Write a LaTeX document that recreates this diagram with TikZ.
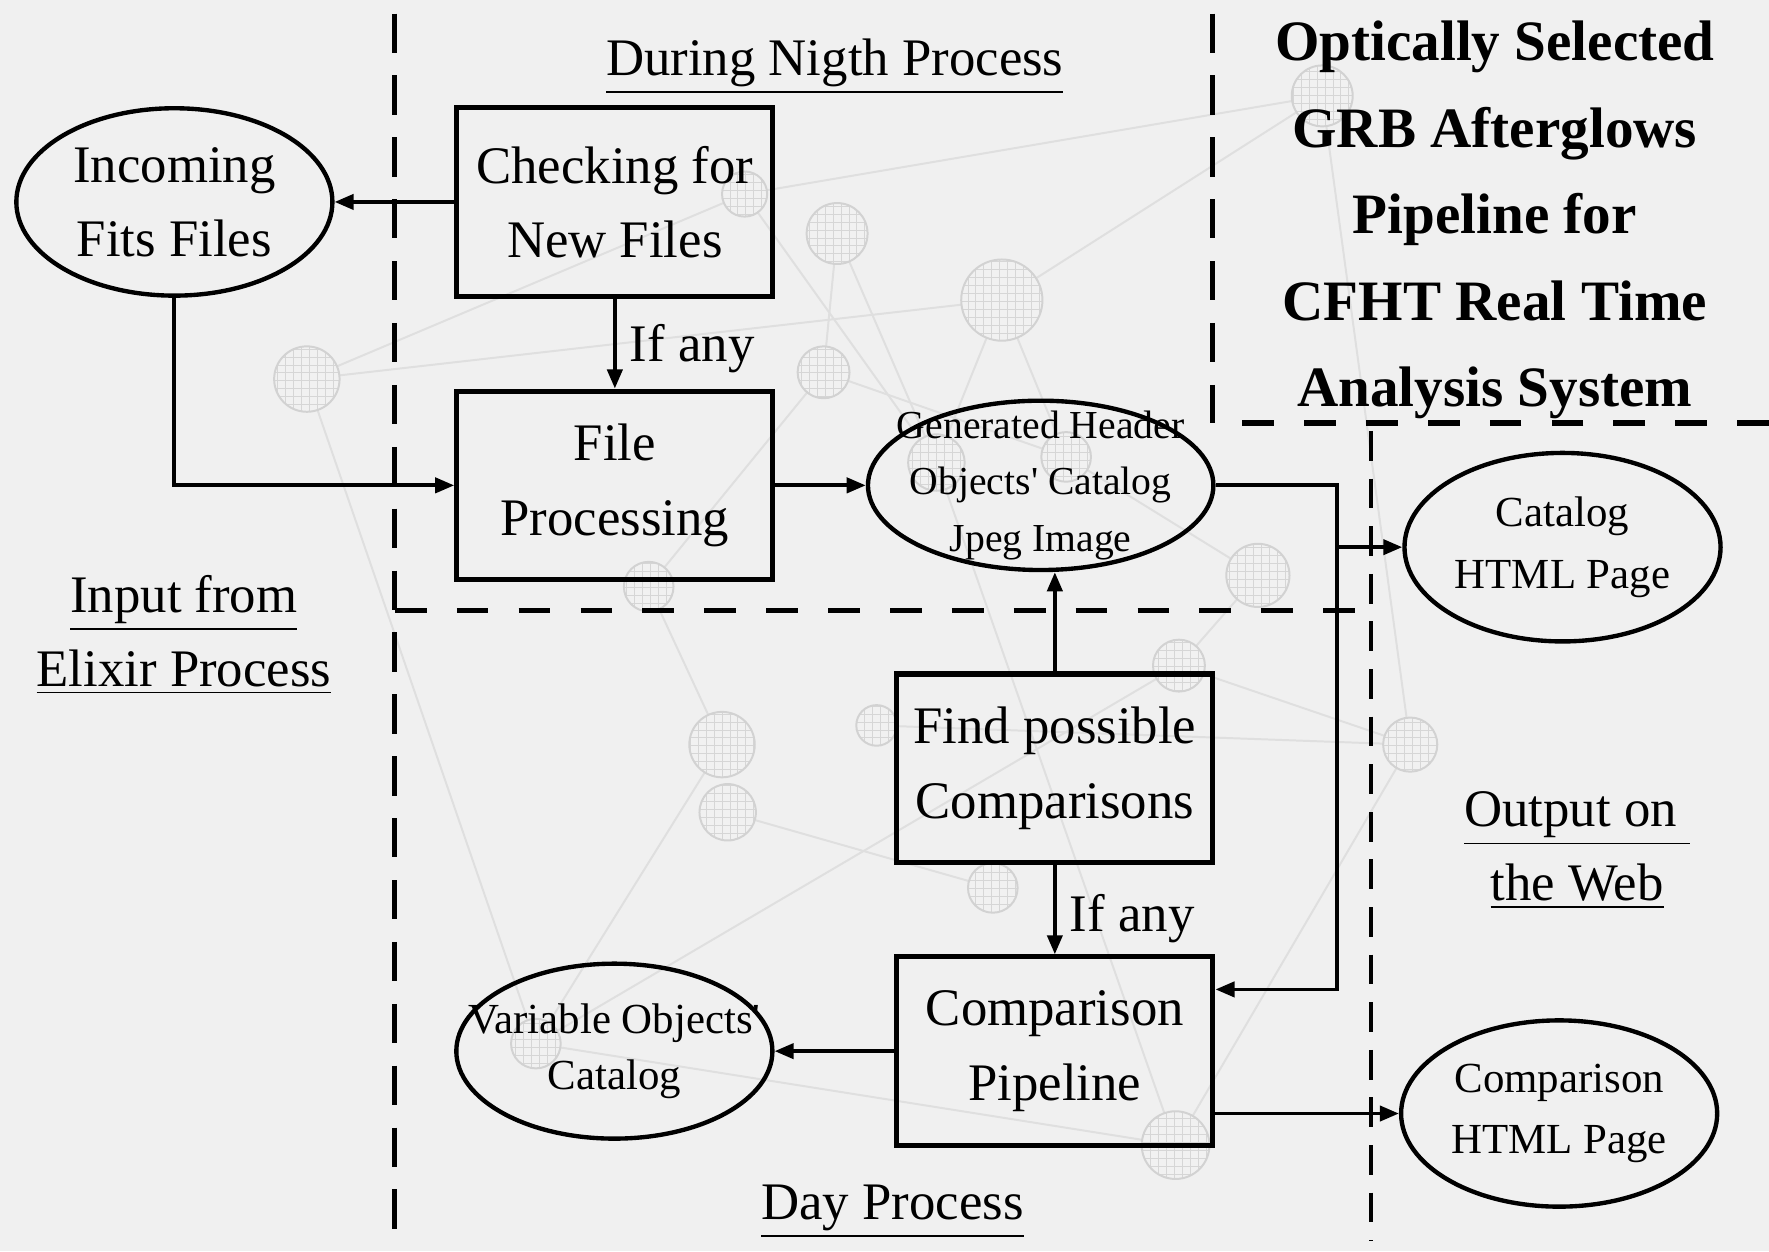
\documentclass[tikz,border=0pt]{standalone}
\usepackage{fontspec}
\setmainfont{Liberation Serif}
\usetikzlibrary{shapes.geometric,arrows.meta,positioning,calc}

\begin{document}
\begin{tikzpicture}[
    x=0.01cm, y=-0.01cm,
    procbox/.style={rectangle, draw, line width=1.3pt, minimum width=2.8cm, minimum height=1.67cm, align=center, font=\fontsize{13.3}{18.7}\selectfont},
    dataell/.style={ellipse, draw, line width=1.1pt, inner sep=-12pt, minimum width=2.8cm, minimum height=1.66cm, align=center, font=\fontsize{10.8}{15.5}\selectfont},
    arrow/.style={-{Triangle[length=4.8pt,width=3.8pt]}, line width=0.95pt},
    partition/.style={line width=1.3pt, dash pattern=on 9.9pt off 5.7pt},
    hpartition/.style={line width=1.3pt, dash pattern=on 8pt off 7.6pt},
    heading/.style={align=center, font=\fontsize{13.3}{18.7}\selectfont},
    headline/.style={align=center, font=\fontsize{14.4}{21.8}\selectfont\bfseries},
    condtext/.style={font=\fontsize{13.3}{16}\selectfont},
    web/.style={gray!25, line width=0.5pt},
    globe/.style={gray!32, line width=0.25pt}
]
    \useasboundingbox (0,0) rectangle (1568,1109);
    \fill[black!6] (0,0) rectangle (1568,1109);

    % Background network of globes
    \foreach \i/\gx/\gy in {1/660/172, 2/742/207, 3/888/266, 4/272/336, 5/730/330, 6/830/410, 7/945/405, 8/1172/85, 9/1115/510, 10/575/520, 11/1045/590, 12/777/643, 13/640/660, 14/645/720, 15/880/787, 16/1250/660, 17/475/925, 18/1042/1015}
        \coordinate (g\i) at (\gx,\gy);
    \foreach \a/\b in {4/1, 4/3, 4/17, 1/6, 1/8, 2/5, 2/6, 3/6, 3/7, 3/8, 5/7, 5/10, 10/13, 8/16, 9/11, 11/16, 11/17, 12/16, 7/9, 13/17, 14/15, 17/18, 16/18, 6/18}
        \draw[web] (g\a) -- (g\b);
    \foreach \i/\gr in {1/20, 2/27, 3/36, 4/29, 5/23, 6/25, 7/22, 8/27, 9/28, 10/22, 11/23, 12/18, 13/29, 14/25, 15/22, 16/24, 17/22, 18/30}
    {
        \fill[gray!11] (g\i) circle[radius={\gr*0.01cm}];
        \begin{scope}
            \clip (g\i) circle[radius={\gr*0.01cm}];
            \draw[globe, step=2pt] ($(g\i)+(-\gr,-\gr)$) grid ($(g\i)+(\gr,\gr)$);
        \end{scope}
        \draw[gray!35, line width=0.5pt] (g\i) circle[radius={\gr*0.01cm}];
    }

    % Partitions
    \draw[partition] (350,12) -- (350,1109);
    \draw[hpartition] (350,541) -- (1215,541);
    \draw[partition] (1075,12) -- (1075,375);
    \draw[hpartition] (1568,375) -- (1075,375);
    \draw[partition, line width=1pt, dash pattern=on 7.5pt off 4.5pt] (1215,382) -- (1215,1100);

    % Night process
    \node[procbox] (checkfiles) at (545,179) {Checking for\\New Files};
    \node[dataell, font=\fontsize{13.3}{18.7}\selectfont, left=1.06cm of checkfiles] (incoming) {Incoming\\Fits Files};
    \node[procbox, below=0.795cm of checkfiles] (fileproc) {File\\Processing};
    \node[dataell, minimum width=3.06cm, minimum height=1.5cm, font=\fontsize{10}{14.2}\selectfont, right=0.8cm of fileproc] (generated) {Generated Header\\Objects\textquotesingle{} Catalog\\Jpeg Image};

    % Day process
    \node[procbox] (findcomp) at (935,681) {Find possible\\Comparisons};
    \node[procbox, below=0.79cm of findcomp] (comppipe) {Comparison\\Pipeline};
    \node[dataell, minimum height=1.55cm, font=\fontsize{10.8}{14.2}\selectfont, left=1.06cm of comppipe] (varcat) {Variable Objects\textquotesingle\\Catalog};

    % Web output
    \node[dataell, minimum height=1.67cm] (cathtml) at (1385,485) {Catalog\\HTML Page};
    \node[dataell, minimum height=1.65cm] (comphtml) at (1382,987) {Comparison\\HTML Page};

    % Labels
    \node[heading] (nightlbl) at (740,59) {\underline{During Nigth Process}};
    \node[heading] (inputlbl) at (163,563) {\underline{Input from}\\\underline{Elixir Process}};
    \node[heading] (outputlbl) at (1398,754) {\underline{Output on\ }\\\underline{the Web}};
    \node[heading] (daylbl) at (791,1074) {\underline{Day Process}};
    \node[headline] (titlelbl) at (1325,195) {Optically Selected\\GRB Afterglows\\Pipeline for\\CFHT Real Time\\Analysis System};

    % Connectors
    \coordinate (busmid) at (1185,485);
    \coordinate (busbot) at (1185,877);
    \draw[arrow] (checkfiles) -- (incoming);
    \draw[arrow] (checkfiles) -- node[right, condtext, pos=0.55] {If any} (fileproc);
    \draw[arrow] (incoming.south) |- (fileproc.west);
    \draw[arrow] (fileproc) -- (generated);
    \draw[arrow] (findcomp.north) -- (findcomp.north |- generated.south);
    \draw[arrow] (findcomp) -- node[right, condtext, pos=0.6] {If any} (comppipe);
    \draw[arrow] (generated.east) -| (busbot) -- (comppipe.east |- busbot);
    \draw[arrow] (busmid) -- (cathtml.west);
    \draw[arrow] (comppipe) -- (varcat);
    \draw[arrow] (comppipe.east |- comphtml.west) -- (comphtml.west);
\end{tikzpicture}
\end{document}
